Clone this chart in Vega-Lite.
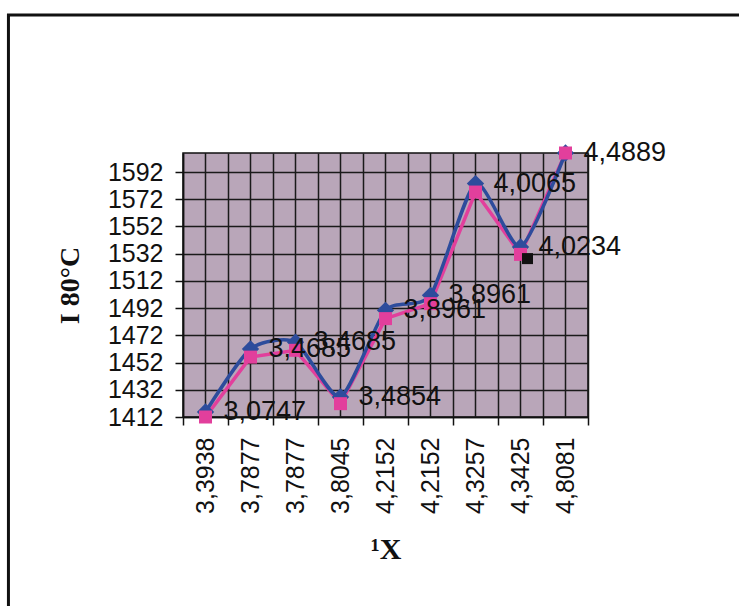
{
  "$schema": "https://vega.github.io/schema/vega-lite/v6.json",
  "autosize": {"type": "none"},
  "width": 405,
  "height": 264,
  "padding": {"left": 183, "top": 153, "right": 151, "bottom": 189},
  "background": "white",
  "config": {
    "view": {"fill": "#b9a6b9", "stroke": "#111111", "strokeWidth": 1.5}
  },
  "data": {
    "values": [
      {"key": "0|3,3938", "blue": 1415.7, "pink": 1412.0, "lab": "3,0747"},
      {"key": "1|3,7877", "blue": 1462.0, "pink": 1456.0, "lab": "3,4685"},
      {"key": "2|3,7877", "blue": 1467.0, "pink": 1461.0, "lab": "3,4685"},
      {"key": "3|3,8045", "blue": 1426.7, "pink": 1421.8, "lab": "3,4854"},
      {"key": "4|4,2152", "blue": 1490.4, "pink": 1484.3, "lab": "3,8961"},
      {"key": "5|4,2152", "blue": 1501.4, "pink": 1495.3, "lab": "3,8961"},
      {"key": "6|4,3257", "blue": 1583.5, "pink": 1577.3, "lab": "4,0065"},
      {"key": "7|4,3425", "blue": 1537.0, "pink": 1531.5, "lab": "4,0234", "extra": 1528.4},
      {"key": "8|4,8081", "blue": 1606.0, "pink": 1606.0, "lab": "4,4889"}
    ]
  },
  "layer": [
    {
      "data": {"values": [{}]},
      "mark": {"type": "rect", "filled": false, "stroke": "#111111", "strokeWidth": 3},
      "encoding": {
        "x": {"datum": -0.431, "type": "quantitative", "scale": {"domain": [0, 1], "nice": false, "zero": false}, "axis": null},
        "x2": {"datum": 1.6},
        "y": {"datum": 1.5227, "type": "quantitative", "scale": {"domain": [0, 1], "nice": false, "zero": false}, "axis": null},
        "y2": {"datum": -0.9}
      }
    },
    {
      "encoding": {
        "x": {
          "field": "key",
          "type": "nominal",
          "sort": null,
          "scale": {"type": "band", "paddingInner": 0, "paddingOuter": 0},
          "axis": {
            "labelExpr": "split(datum.value, '|')[1]",
            "labelAngle": -90,
            "tickBand": "extent",
            "grid": true,
            "gridColor": "#1a1a1a",
            "gridWidth": 1.5,
            "gridOpacity": 1,
            "ticks": true,
            "tickSize": 8,
            "tickColor": "#111111",
            "tickWidth": 1.5,
            "domainColor": "#111111",
            "domainWidth": 1.5,
            "labelFont": "Liberation Sans",
            "labelFontSize": 25,
            "labelColor": "#111111",
            "labelPadding": 12,
            "title": "¹X",
            "titleFont": "Liberation Serif",
            "titleFontWeight": "bold",
            "titleFontSize": 30,
            "titleColor": "#111111",
            "titlePadding": 21
          }
        },
        "y": {
          "type": "quantitative",
          "scale": {"domain": [1412, 1606], "nice": false, "zero": false},
          "axis": {
            "values": [1412, 1432, 1452, 1472, 1492, 1512, 1532, 1552, 1572, 1592],
            "format": "d",
            "grid": true,
            "gridColor": "#1a1a1a",
            "gridWidth": 1.5,
            "gridOpacity": 1,
            "tickSize": 8,
            "tickColor": "#111111",
            "tickWidth": 1.5,
            "domainColor": "#111111",
            "domainWidth": 1.5,
            "labelFont": "Liberation Sans",
            "labelFontSize": 25,
            "labelColor": "#111111",
            "labelPadding": 12,
            "title": "I 80°C",
            "titleFont": "Liberation Serif",
            "titleFontWeight": "bold",
            "titleFontSize": 28,
            "titleColor": "#111111",
            "titlePadding": 23
          }
        }
      },
      "layer": [
        {
          "mark": {"type": "rule", "color": "#1a1a1a", "strokeWidth": 1.5},
          "encoding": {}
        },
        {
          "mark": {"type": "line", "color": "#e23f9c", "strokeWidth": 3.5},
          "encoding": {"y": {"field": "pink"}}
        },
        {
          "mark": {"type": "line", "color": "#2d4c9c", "strokeWidth": 3.5, "interpolate": "cardinal", "tension": 0.35},
          "encoding": {"y": {"field": "blue"}}
        },
        {
          "mark": {"type": "point", "shape": "diamond", "filled": true, "color": "#2d4c9c", "opacity": 1, "size": 300},
          "encoding": {"y": {"field": "blue"}}
        },
        {
          "mark": {"type": "square", "filled": true, "color": "#e23f9c", "opacity": 1, "size": 169},
          "encoding": {"y": {"field": "pink"}}
        },
        {
          "mark": {"type": "square", "filled": true, "color": "#111111", "opacity": 1, "size": 121, "xOffset": 7},
          "encoding": {"y": {"field": "extra"}}
        },
        {
          "mark": {"type": "text", "align": "left", "baseline": "middle", "dx": 18, "font": "Liberation Sans", "fontSize": 27, "color": "#111111"},
          "encoding": {"y": {"field": "blue"}, "text": {"field": "lab"}}
        }
      ]
    }
  ],
  "resolve": {"scale": {"x": "independent", "y": "independent"}}
}
